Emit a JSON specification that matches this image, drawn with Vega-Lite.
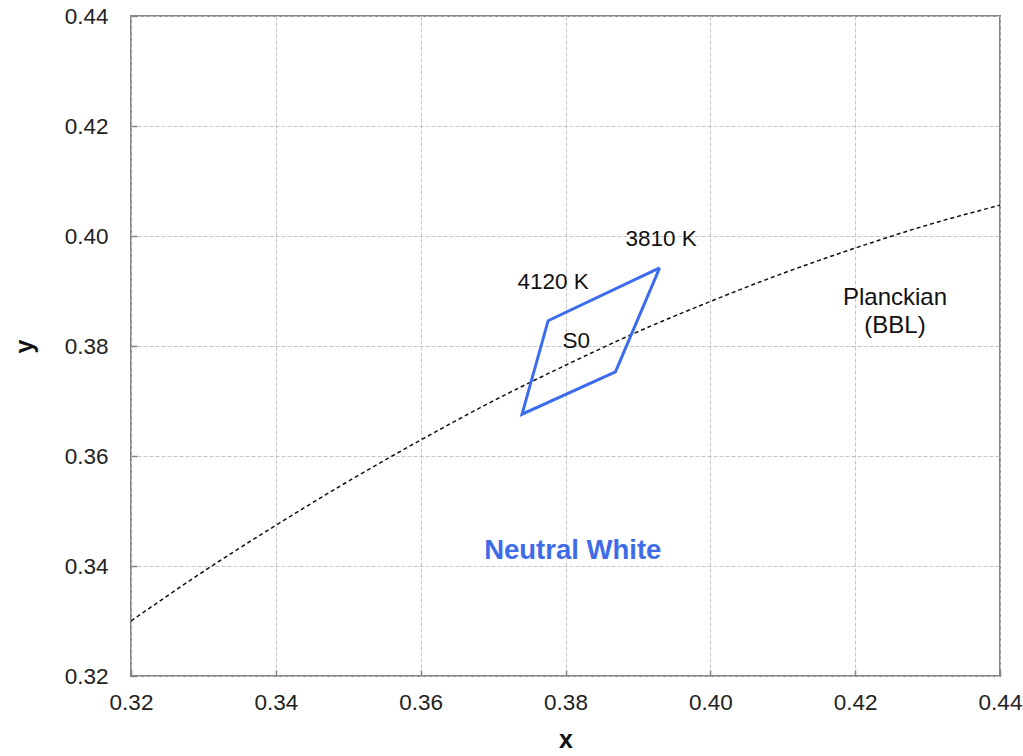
{
  "$schema": "https://vega.github.io/schema/vega-lite/v6.json",
  "width": 869,
  "height": 660,
  "autosize": {"type": "none"},
  "padding": {"left": 131, "top": 16, "right": 23, "bottom": 80},
  "background": "white",
  "config": {
    "view": {"stroke": "#858585", "strokeWidth": 2},
    "font": "Liberation Sans",
    "axis": {
      "domain": false,
      "ticks": true,
      "tickSize": -6,
      "tickColor": "#858585",
      "tickWidth": 1.5,
      "grid": true,
      "gridColor": "#c4c4c4",
      "gridDash": [4, 2],
      "gridWidth": 1,
      "labelFlush": false,
      "labelFont": "Liberation Sans",
      "labelFontSize": 22.5,
      "labelColor": "#222222",
      "titleFont": "Liberation Sans",
      "titleFontSize": 25,
      "titleFontWeight": "bold",
      "titleColor": "#111111"
    }
  },
  "datasets": {
    "planck": [
      {"x": 0.32, "y": 0.3300},
      {"x": 0.33, "y": 0.3390},
      {"x": 0.34, "y": 0.3474},
      {"x": 0.35, "y": 0.3554},
      {"x": 0.36, "y": 0.3629},
      {"x": 0.37, "y": 0.3700},
      {"x": 0.38, "y": 0.3765},
      {"x": 0.39, "y": 0.3826},
      {"x": 0.40, "y": 0.3881},
      {"x": 0.41, "y": 0.3932},
      {"x": 0.42, "y": 0.3978},
      {"x": 0.43, "y": 0.4020},
      {"x": 0.44, "y": 0.4056}
    ],
    "quad": [
      {"i": 1, "x": 0.3930, "y": 0.3942},
      {"i": 2, "x": 0.3776, "y": 0.3846},
      {"i": 3, "x": 0.3740, "y": 0.3676},
      {"i": 4, "x": 0.3869, "y": 0.3753},
      {"i": 5, "x": 0.3930, "y": 0.3942}
    ],
    "labels": [
      {"x": 0.3932, "y": 0.3995, "t": "3810 K"},
      {"x": 0.3783, "y": 0.3916, "t": "4120 K"},
      {"x": 0.3815, "y": 0.3809, "t": "S0"}
    ],
    "planckLabel": [
      {"x": 0.4255, "y": 0.3888, "t": "Planckian"},
      {"x": 0.4255, "y": 0.3836, "t": "(BBL)"}
    ],
    "title": [
      {"x": 0.3810, "y": 0.3428, "t": "Neutral White"}
    ]
  },
  "encoding": {
    "x": {
      "field": "x", "type": "quantitative",
      "scale": {"domain": [0.32, 0.44], "nice": false, "zero": false},
      "axis": {"values": [0.32, 0.34, 0.36, 0.38, 0.40, 0.42, 0.44], "format": ".2f", "labelPadding": 21, "title": "x", "titlePadding": 14}
    },
    "y": {
      "field": "y", "type": "quantitative",
      "scale": {"domain": [0.32, 0.44], "nice": false, "zero": false},
      "axis": {"values": [0.32, 0.34, 0.36, 0.38, 0.40, 0.42, 0.44], "format": ".2f", "labelPadding": 29, "title": "y", "titlePadding": 27}
    }
  },
  "layer": [
    {
      "data": {"name": "planck"},
      "mark": {"type": "line", "color": "#111111", "strokeWidth": 1.5, "strokeDash": [4, 3], "clip": true, "interpolate": "monotone"}
    },
    {
      "data": {"name": "quad"},
      "mark": {"type": "line", "color": "#3b6cf0", "strokeWidth": 3, "strokeJoin": "miter"},
      "encoding": {"order": {"field": "i", "type": "quantitative"}}
    },
    {
      "data": {"name": "labels"},
      "mark": {"type": "text", "fontSize": 22.5, "color": "#111111", "align": "center", "baseline": "middle"},
      "encoding": {"text": {"field": "t"}}
    },
    {
      "data": {"name": "planckLabel"},
      "mark": {"type": "text", "fontSize": 24, "color": "#111111", "align": "center", "baseline": "middle"},
      "encoding": {"text": {"field": "t"}}
    },
    {
      "data": {"name": "title"},
      "mark": {"type": "text", "fontSize": 27.5, "fontWeight": "bold", "color": "#3e6ce8", "align": "center", "baseline": "middle"},
      "encoding": {"text": {"field": "t"}}
    }
  ]
}
